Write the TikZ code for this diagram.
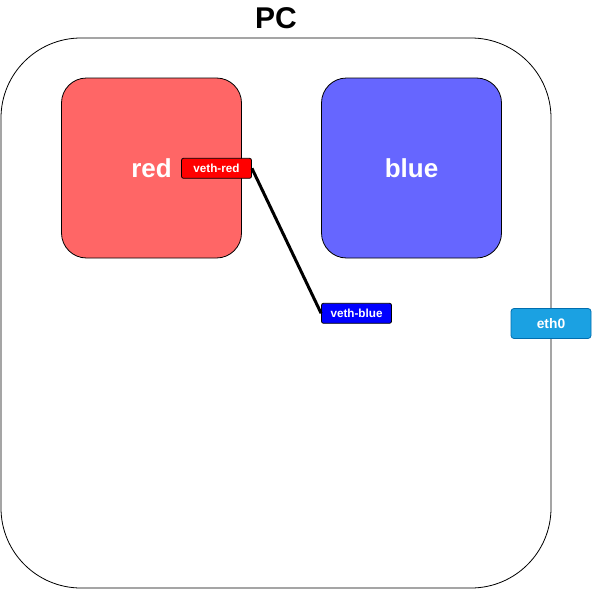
\documentclass[tikz,border=0pt]{standalone}
\usepackage{fontspec}
\setmainfont{Liberation Sans}
\definecolor{boxred}{HTML}{FF6666}
\definecolor{boxblue}{HTML}{6666FF}
\definecolor{vred}{HTML}{FF0000}
\definecolor{vblue}{HTML}{0000FF}
\definecolor{ethfill}{HTML}{1BA1E2}
\definecolor{ethdraw}{HTML}{006EAF}
\tikzset{
  nsbox/.style={draw=black, line width=0.8pt, rounded corners=25pt, minimum width=180pt, minimum height=180pt, inner sep=0pt, text=white, font=\fontsize{26}{30}\selectfont\bfseries},
  ifbox/.style={draw=black, line width=0.8pt, rounded corners=2pt, minimum width=70pt, minimum height=20pt, inner sep=0pt, text=white, font=\fontsize{11.7}{13}\selectfont\bfseries},
}
\begin{document}
\begin{tikzpicture}[x=1pt,y=-1pt]
\useasboundingbox (0,0) rectangle (592,589);
\node[draw=black, line width=0.8pt, rounded corners=80pt, minimum width=550pt, minimum height=550pt, inner sep=0pt] (pc) at (276,313) {};
\node[font=\fontsize{30}{34}\selectfont\bfseries] (pclabel) at (276,18) {PC};
\node[nsbox, fill=boxred] (red) at (151.5,168) {red};
\node[nsbox, fill=boxblue] (blue) at (411.5,168) {blue};
\node[ifbox, fill=vred] (vr) at (216.5,168.3) {veth-red};
\node[ifbox, fill=vblue] (vb) at (356.5,313.3) {veth-blue};
\node[draw=ethdraw, fill=ethfill, line width=0.8pt, rounded corners=3pt, minimum width=80pt, minimum height=30pt, inner sep=0pt, text=white, font=\fontsize{13.8}{16}\selectfont\bfseries] (eth) at (551,323.5) {eth0};
\draw[line width=3pt] (vr.east) -- (vb.west);
\end{tikzpicture}
\end{document}
